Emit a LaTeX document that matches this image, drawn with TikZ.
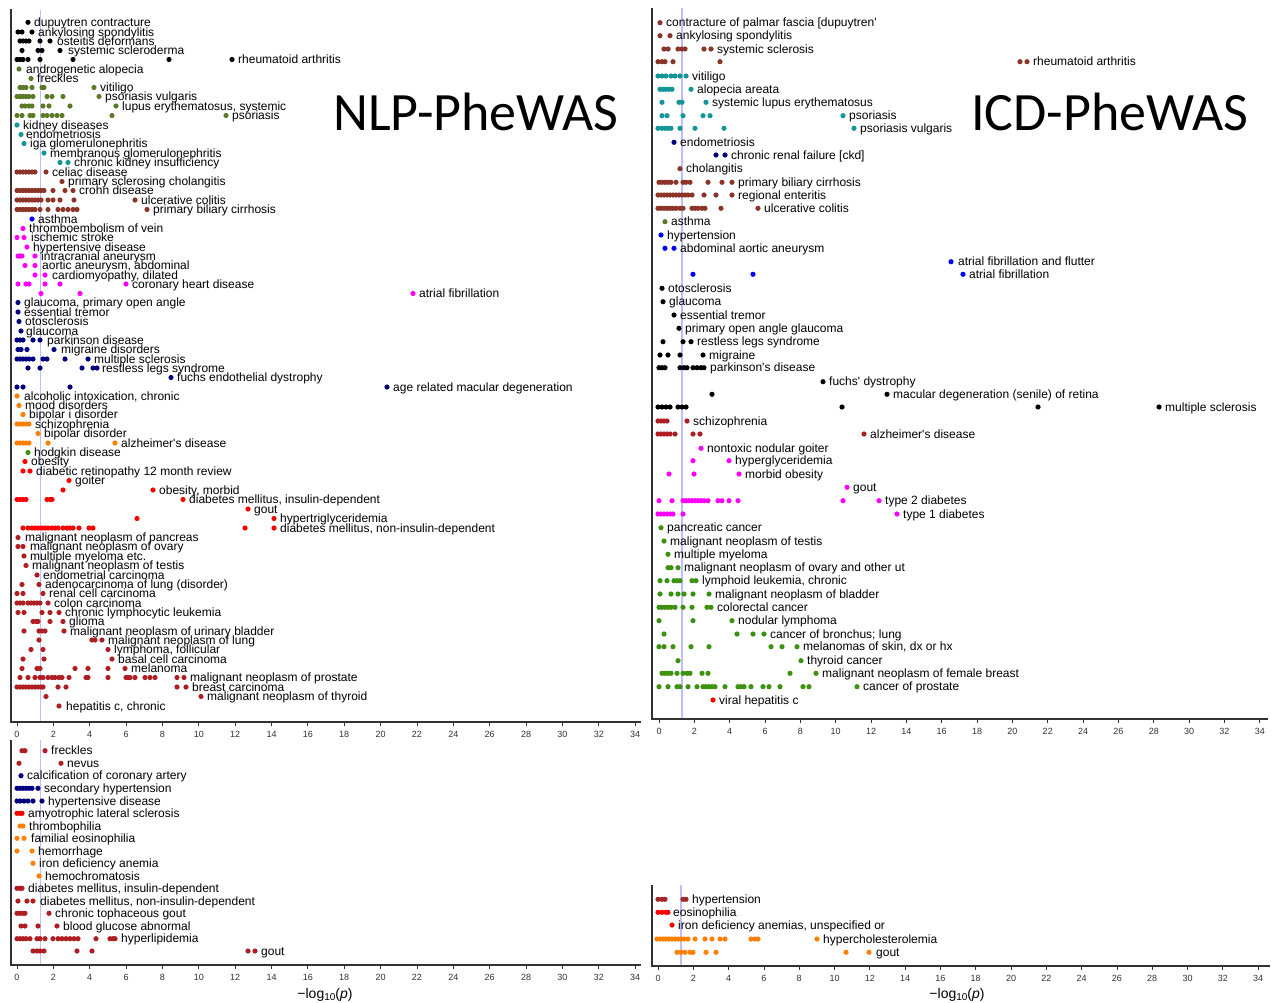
\documentclass[tikz,border=0pt]{standalone}
\usepackage{fontspec}
\setmainfont{Liberation Sans}
\newfontfamily\titlefont{Carlito}
\definecolor{olv}{RGB}{90,122,40}
\definecolor{tl}{RGB}{20,150,150}
\definecolor{brn}{RGB}{140,52,40}
\definecolor{nvy}{RGB}{0,0,128}
\definecolor{org}{RGB}{255,128,0}
\definecolor{grn}{RGB}{60,145,15}
\definecolor{fbr}{RGB}{175,30,35}
\definecolor{hbr}{RGB}{158,40,40}
\definecolor{mag}{RGB}{255,0,255}
\definecolor{blu}{RGB}{0,0,255}
\definecolor{rd}{RGB}{255,0,0}
\definecolor{sig}{RGB}{190,190,255}
\definecolor{axc}{RGB}{50,50,50}
\tikzset{
  lab/.style={anchor=base west,inner sep=0pt,font=\fontsize{12}{12}\selectfont},
  ticklab/.style={anchor=base,inner sep=0pt,font=\fontsize{9}{9}\selectfont,text=axc},
  axisline/.style={draw=axc,line width=1.3pt},
  sigline/.style={draw=sig,line width=1.6pt},
  xlab/.style={anchor=base,inner sep=0pt,font=\fontsize{14}{14}\selectfont},
  bigtitle/.style={anchor=base west,inner sep=0pt,font=\titlefont\fontsize{54}{54}\selectfont}
}
\newcommand\prow[5]{%
  \foreach \xx in {#3}{\fill[#2] (\xx,#1) circle[radius=2.6pt];}
  \node[lab] at (#4,#1+4) {#5};
}
\newcommand\apo{\textquotesingle}
\begin{document}
\begin{tikzpicture}[x=1pt,y=-1pt]
\useasboundingbox[fill=white] (0,0) rectangle (1271,1002);
% ---------- axes ----------
% top left
\draw[sigline] (40.6,10) -- (40.6,722);
\draw[axisline] (11,9) -- (11,722) -- (641,722);
\foreach \k in {0,2,...,34}{\draw[axc,line width=0.8pt] (17+18.18*\k,722) -- (17+18.18*\k,726);
  \node[ticklab] at (17+18.18*\k,737) {\k};}
% top right
\draw[sigline] (682,8) -- (682,719);
\draw[axisline] (652,8) -- (652,719) -- (1268,719);
\foreach \k in {0,2,...,34}{\draw[axc,line width=0.8pt] (659+17.67*\k,719) -- (659+17.67*\k,723);
  \node[ticklab] at (659+17.67*\k,734) {\k};}
% bottom left
\draw[sigline] (40.6,740) -- (40.6,965);
\draw[axisline] (11,740) -- (11,965) -- (641,965);
\foreach \k in {0,2,...,34}{\draw[axc,line width=0.8pt] (17+18.18*\k,965) -- (17+18.18*\k,969);
  \node[ticklab] at (17+18.18*\k,980) {\k};}
\node[xlab] at (325,998) {−log\raisebox{-0.35ex}{\fontsize{10}{10}\selectfont 10}(\textit{p})};
% bottom right
\draw[sigline] (681,885) -- (681,966);
\draw[axisline] (652,885) -- (652,966) -- (1270,966);
\foreach \k in {0,2,...,34}{\draw[axc,line width=0.8pt] (658+17.65*\k,966) -- (658+17.65*\k,970);
  \node[ticklab] at (658+17.65*\k,981) {\k};}
\node[xlab] at (957,998) {−log\raisebox{-0.35ex}{\fontsize{10}{10}\selectfont 10}(\textit{p})};
% ---------- titles ----------
\node[bigtitle] at (333,130) {NLP-PheWAS};
\node[bigtitle] at (971,130) {ICD-PheWAS};
% ---------- NLP top ----------
\prow{22.3}{black}{28}{34}{dupuytren contracture}
\prow{32}{black}{18,22,32}{38}{ankylosing spondylitis}
\prow{41}{black}{20,23,26,29,40,50}{57}{osteitis deformans}
\prow{50.5}{black}{22,38,42,60}{68}{systemic scleroderma}
\prow{59.5}{black}{17,20,23,28,40,73,169,232}{238}{rheumatoid arthritis}
\prow{69}{olv}{19}{26}{androgenetic alopecia}
\prow{78.5}{olv}{31}{37}{freckles}
\prow{87.5}{olv}{20,23,26,32,42,44,94}{100}{vitiligo}
\prow{96.5}{olv}{17,20,23,26,29,33,47,52,63,99}{105}{psoriasis vulgaris}
\prow{106}{olv}{22,25,29,32,43,49,70,116}{122}{lupus erythematosus, systemic}
\prow{115.5}{olv}{17,22,30,33,43,47,52,57,62,112,226}{232}{psoriasis}
\prow{125}{tl}{17}{23}{kidney diseases}
\prow{134.5}{tl}{21}{26}{endometriosis}
\prow{143.5}{tl}{24}{30}{iga glomerulonephritis}
\prow{153}{tl}{44}{50}{membranous glomerulonephritis}
\prow{162.5}{tl}{60,68}{74}{chronic kidney insufficiency}
\prow{172}{brn}{17,20,23,26,29,32,35,46}{52}{celiac disease}
\prow{181.5}{brn}{62}{68}{primary sclerosing cholangitis}
\prow{190.5}{brn}{17,20,23,26,29,32,35,38,41,44,53,65,73}{79}{crohn disease}
\prow{200}{brn}{17,20,23,26,29,32,35,38,41,48,53,60,74,135}{141}{ulcerative colitis}
\prow{209.5}{brn}{17,20,23,26,29,32,35,40,48,58,63,68,73,77,147}{153}{primary biliary cirrhosis}
\prow{219}{blu}{32}{38}{asthma}
\prow{228.5}{mag}{23}{29}{thromboembolism of vein}
\prow{237.5}{mag}{17,24}{31}{ischemic stroke}
\prow{247}{mag}{27}{33}{hypertensive disease}
\prow{256}{mag}{18,20,22,35}{41}{intracranial aneurysm}
\prow{265.5}{mag}{25,35}{42}{aortic aneurysm, abdominal}
\prow{275}{mag}{35,45}{52}{cardiomyopathy, dilated}
\prow{284}{mag}{18,26,29,45,60,126}{132}{coronary heart disease}
\prow{293.5}{mag}{41,80,413}{419}{atrial fibrillation}
\prow{302.5}{nvy}{18}{24}{glaucoma, primary open angle}
\prow{312}{nvy}{18}{24}{essential tremor}
\prow{321.5}{nvy}{19}{25}{otosclerosis}
\prow{331}{nvy}{21}{26}{glaucoma}
\prow{340}{nvy}{17,20,23,33,40}{47}{parkinson disease}
\prow{349.5}{nvy}{18,21,27,54}{61}{migraine disorders}
\prow{359}{nvy}{17,20,23,26,29,33,43,47,65,88}{94}{multiple sclerosis}
\prow{368}{nvy}{28,40,82,93,97}{102}{restless legs syndrome}
\prow{377.5}{nvy}{171}{177}{fuchs endothelial dystrophy}
\prow{387}{nvy}{17,23,70,387}{393}{age related macular degeneration}
\prow{396}{org}{17}{24}{alcoholic intoxication, chronic}
\prow{405.5}{org}{19}{25}{mood disorders}
\prow{414.5}{org}{23}{29}{bipolar i disorder}
\prow{424}{org}{17,20,23,26,29}{35}{schizophrenia}
\prow{433.5}{org}{38}{44}{bipolar disorder}
\prow{443}{org}{17,20,23,26,29,48,115}{121}{alzheimer\apo s disease}
\prow{452.5}{grn}{28}{34}{hodgkin disease}
\prow{461.5}{rd}{25}{31}{obesity}
\prow{471}{rd}{23,30}{36}{diabetic retinopathy 12 month review}
\prow{480.5}{rd}{69}{75}{goiter}
\prow{490}{rd}{63,153}{159}{obesity, morbid}
\prow{499.5}{rd}{17,20,23,26,47,50,52,183}{189}{diabetes mellitus, insulin-dependent}
\prow{509}{rd}{248}{254}{gout}
\prow{518.5}{rd}{137,274}{280}{hypertriglyceridemia}
\prow{528}{rd}{23,28,32,35,38,42,45,48,52,55,58,63,67,70,73,79,89,93,245,274}{280}{diabetes mellitus, non-insulin-dependent}
\prow{537.5}{fbr}{18}{25}{malignant neoplasm of pancreas}
\prow{546.5}{fbr}{18,23}{30}{malignant neoplasm of ovary}
\prow{556}{fbr}{24}{30}{multiple myeloma etc.}
\prow{565.5}{fbr}{26}{32}{malignant neoplasm of testis}
\prow{575}{fbr}{37}{43}{endometrial carcinoma}
\prow{584.5}{fbr}{22,39}{45}{adenocarcinoma of lung (disorder)}
\prow{593.5}{fbr}{17,23,43}{49}{renal cell carcinoma}
\prow{603}{fbr}{17,20,23,28,31,34,37,40,48}{54}{colon carcinoma}
\prow{612.5}{fbr}{18,24,42,50,59}{65}{chronic lymphocytic leukemia}
\prow{621.5}{fbr}{33,36,38,50,63}{69}{glioma}
\prow{631}{fbr}{24,39,42,45,64}{70}{malignant neoplasm of urinary bladder}
\prow{640}{fbr}{39,92,95,102}{108}{malignant neoplasm of lung}
\prow{649.5}{fbr}{31,43,108}{114}{lymphoma, follicular}
\prow{659}{fbr}{23,44,112}{118}{basal cell carcinoma}
\prow{668.5}{fbr}{22,37,40,75,88,108,125}{131}{melanoma}
\prow{677.5}{fbr}{20,28,35,40,43,48,52,55,59,62,69,86,88,108,126,128,130,135,145,150,155,177,184}{190}{malignant neoplasm of prostate}
\prow{687}{fbr}{17,20,23,26,29,32,35,38,41,43,58,66,177,186}{192}{breast carcinoma}
\prow{696.5}{fbr}{46,201}{207}{malignant neoplasm of thyroid}
\prow{706}{fbr}{59}{66}{hepatitis c, chronic}
% ---------- ICD top ----------
\prow{22.7}{brn}{660}{666}{contracture of palmar fascia [dupuytren\apo}
\prow{35.7}{brn}{660,670}{676}{ankylosing spondylitis}
\prow{49}{brn}{664,668,678,682,685,704,711}{717}{systemic sclerosis}
\prow{61.7}{brn}{658,662,665,673,720,1020,1027}{1033}{rheumatoid arthritis}
\prow{76}{tl}{658,662,666,671,675,680,686}{692}{vitiligo}
\prow{89.3}{tl}{660,663,666,669,672,691}{697}{alopecia areata}
\prow{102.3}{tl}{662,679,682,706}{712}{systemic lupus erythematosus}
\prow{115.7}{tl}{662,667,683,703,710,843}{849}{psoriasis}
\prow{128.3}{tl}{658,662,665,668,671,680,695,724,854}{860}{psoriasis vulgaris}
\prow{142.3}{nvy}{674}{680}{endometriosis}
\prow{155}{nvy}{716,725}{731}{chronic renal failure [ckd]}
\prow{168.7}{brn}{680}{686}{cholangitis}
\prow{182.3}{brn}{659,662,665,668,671,676,683,686,690,708,722,732}{738}{primary biliary cirrhosis}
\prow{195}{brn}{658,661,664,667,670,673,676,679,682,685,688,692,704,716,732}{738}{regional enteritis}
\prow{208.3}{brn}{658,661,664,667,670,673,676,680,683,692,695,698,702,705,721,758}{764}{ulcerative colitis}
\prow{221.7}{olv}{665}{671}{asthma}
\prow{235}{blu}{661}{667}{hypertension}
\prow{248.3}{blu}{665,674}{680}{abdominal aortic aneurysm}
\prow{261.7}{blu}{951}{958}{atrial fibrillation and flutter}
\prow{274.3}{blu}{693,753,963}{969}{atrial fibrillation}
\prow{288.3}{black}{662}{668}{otosclerosis}
\prow{301.7}{black}{663}{669}{glaucoma}
\prow{315}{black}{674}{680}{essential tremor}
\prow{328.3}{black}{679}{685}{primary open angle glaucoma}
\prow{341.7}{black}{663,683,691}{697}{restless legs syndrome}
\prow{355}{black}{660,668,680,703}{709}{migraine}
\prow{367.7}{black}{659,662,665,680,684,687,693,697,701,704}{710}{parkinson\apo s disease}
\prow{381.7}{black}{823}{829}{fuchs\apo\ dystrophy}
\prow{394.3}{black}{712,887}{893}{macular degeneration (senile) of retina}
\prow{407}{black}{658,662,666,670,678,682,686,842,1038,1159}{1165}{multiple sclerosis}
\prow{421}{fbr}{658,661,664,667,687}{693}{schizophrenia}
\prow{434}{fbr}{658,661,664,667,670,675,693,700,864}{870}{alzheimer\apo s disease}
\prow{448.3}{mag}{701}{707}{nontoxic nodular goiter}
\prow{460.7}{mag}{693,729}{735}{hyperglyceridemia}
\prow{474}{mag}{669,694,739}{745}{morbid obesity}
\prow{487.3}{mag}{847}{853}{gout}
\prow{500.7}{mag}{659,672,683,686,689,692,695,698,701,704,708,718,722,729,738,843,879}{885}{type 2 diabetes}
\prow{514}{mag}{658,661,664,667,670,673,683,897}{903}{type 1 diabetes}
\prow{527.7}{grn}{661}{667}{pancreatic cancer}
\prow{541}{grn}{664}{670}{malignant neoplasm of testis}
\prow{554.3}{grn}{668}{674}{multiple myeloma}
\prow{567.7}{grn}{668,671,678}{684}{malignant neoplasm of ovary and other ut}
\prow{580.7}{grn}{660,667,674,677,680,692,696}{702}{lymphoid leukemia, chronic}
\prow{594}{grn}{660,671,678,684,693,709}{715}{malignant neoplasm of bladder}
\prow{607.3}{grn}{659,662,665,668,671,675,683,692,707,711}{717}{colorectal cancer}
\prow{620.7}{grn}{659,693,732}{738}{nodular lymphoma}
\prow{634}{grn}{664,737,753,764}{770}{cancer of bronchus; lung}
\prow{646.7}{grn}{659,664,673,691,709,771,782,797}{803}{melanomas of skin, dx or hx}
\prow{660.7}{grn}{678,801}{807}{thyroid cancer}
\prow{673.3}{grn}{662,665,668,671,677,683,687,690,702,708,790,816}{822}{malignant neoplasm of female breast}
\prow{686.7}{grn}{659,668,677,680,688,697,703,706,709,712,715,725,738,741,744,751,763,769,780,803,809,857}{863}{cancer of prostate}
\prow{700}{rd}{713}{719}{viral hepatitis c}
% ---------- NLP bottom ----------
\prow{750.7}{fbr}{22,25,45}{51}{freckles}
\prow{763.3}{fbr}{19,61}{67}{nevus}
\prow{775.7}{nvy}{21}{27}{calcification of coronary artery}
\prow{788.3}{nvy}{17,20,23,26,29,32,38}{44}{secondary hypertension}
\prow{801}{nvy}{17,20,24,28,33,42}{48}{hypertensive disease}
\prow{813.3}{rd}{17,20,22}{28}{amyotrophic lateral sclerosis}
\prow{826}{org}{20,23}{29}{thrombophilia}
\prow{838.3}{org}{17,24}{31}{familial eosinophilia}
\prow{851}{org}{17,32}{38}{hemorrhage}
\prow{863.3}{org}{33}{39}{iron deficiency anemia}
\prow{876}{org}{39}{45}{hemochromatosis}
\prow{888.3}{fbr}{17,20,22}{28}{diabetes mellitus, insulin-dependent}
\prow{901}{fbr}{18,27,33}{40}{diabetes mellitus, non-insulin-dependent}
\prow{913.3}{fbr}{17,20,23,25,49}{55}{chronic tophaceous gout}
\prow{926}{fbr}{21,25,38,57}{63}{blood glucose abnormal}
\prow{938.7}{fbr}{17,20,23,26,30,37,40,45,53,58,62,66,70,74,78,96,110,113,115}{121}{hyperlipidemia}
\prow{951}{fbr}{33,37,40,44,77,92,248,255}{261}{gout}
% ---------- ICD bottom ----------
\prow{899.3}{hbr}{658,662,665,683,686}{692}{hypertension}
\prow{912.3}{rd}{658,662,666,668}{673}{eosinophilia}
\prow{925}{rd}{672}{678}{iron deficiency anemias, unspecified or}
\prow{939}{org}{657,660,663,666,669,672,675,678,681,684,688,695,705,712,720,725,751,755,758,817}{823}{hypercholesterolemia}
\prow{952.3}{org}{677,681,685,690,693,706,716,846,869}{876}{gout}
\end{tikzpicture}
\end{document}
